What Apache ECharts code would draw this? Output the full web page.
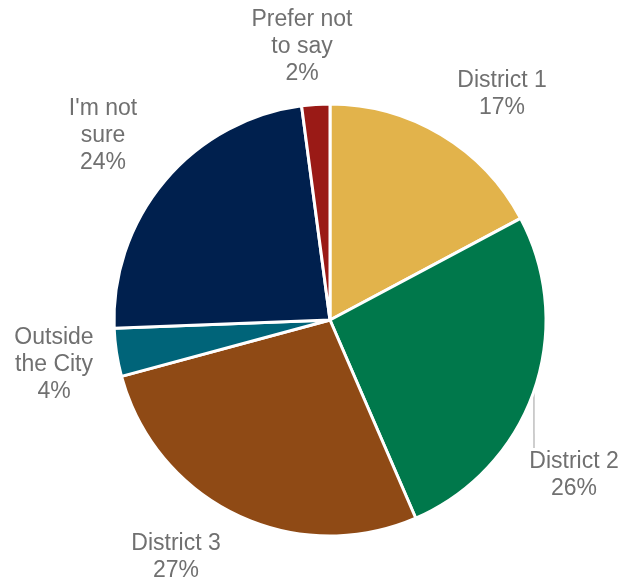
<!DOCTYPE html>
<html>
<head>
<meta charset="utf-8">
<script src="https://cdn.jsdelivr.net/npm/echarts@6/dist/echarts.min.js"></script>
<style>
html,body{margin:0;padding:0;background:#fff;}
#chart{width:623px;height:582px;}
</style>
</head>
<body>
<div id="chart"></div>
<script>
const categories = ["District 1", "District 2", "District 3", "Outside\nthe City", "I'm not\nsure", "Prefer not\nto say"];
const values = [17.2, 26.3, 27.3, 3.6, 23.5, 2.1];
const colors = ["#E2B34B", "#00784B", "#8F4A15", "#006479", "#00204E", "#9A1A16"];
const labelPos = [[502, 94], [534, 475], [176, 557], [54, 365], [103, 136], [302, 47]];

const chart = echarts.init(document.getElementById('chart'));
chart.setOption({
  animation: false,
  backgroundColor: '#ffffff',
  series: [{
    type: 'pie',
    center: [330, 320],
    radius: 216,
    startAngle: 90,
    clockwise: true,
    data: categories.map((c, i) => ({
      name: c,
      value: values[i],
      itemStyle: { color: colors[i] },
      label: i === 1 ? { padding: [0, 0, 0, 80] } : {},
      labelLine: { show: i === 1 }
    })),
    itemStyle: { borderColor: '#ffffff', borderWidth: 3 },
    label: {
      show: true,
      position: 'outside',
      formatter: p => p.name + '\n' + Math.round(p.value) + '%',
      color: '#707070',
      fontFamily: "'Liberation Sans', Arial, sans-serif",
      fontSize: 23,
      lineHeight: 27,
      align: 'center',
      overflow: 'none'
    },
    labelLine: {
      lineStyle: { color: '#BFBFBF', width: 1.5 },
      length: 10,
      length2: 0
    },
    labelLayout: function (params) {
      const p = labelPos[params.dataIndex];
      return { x: p[0], y: p[1], align: 'center', verticalAlign: 'middle', width: 300 };
    }
  }]
});
</script>
</body>
</html>
